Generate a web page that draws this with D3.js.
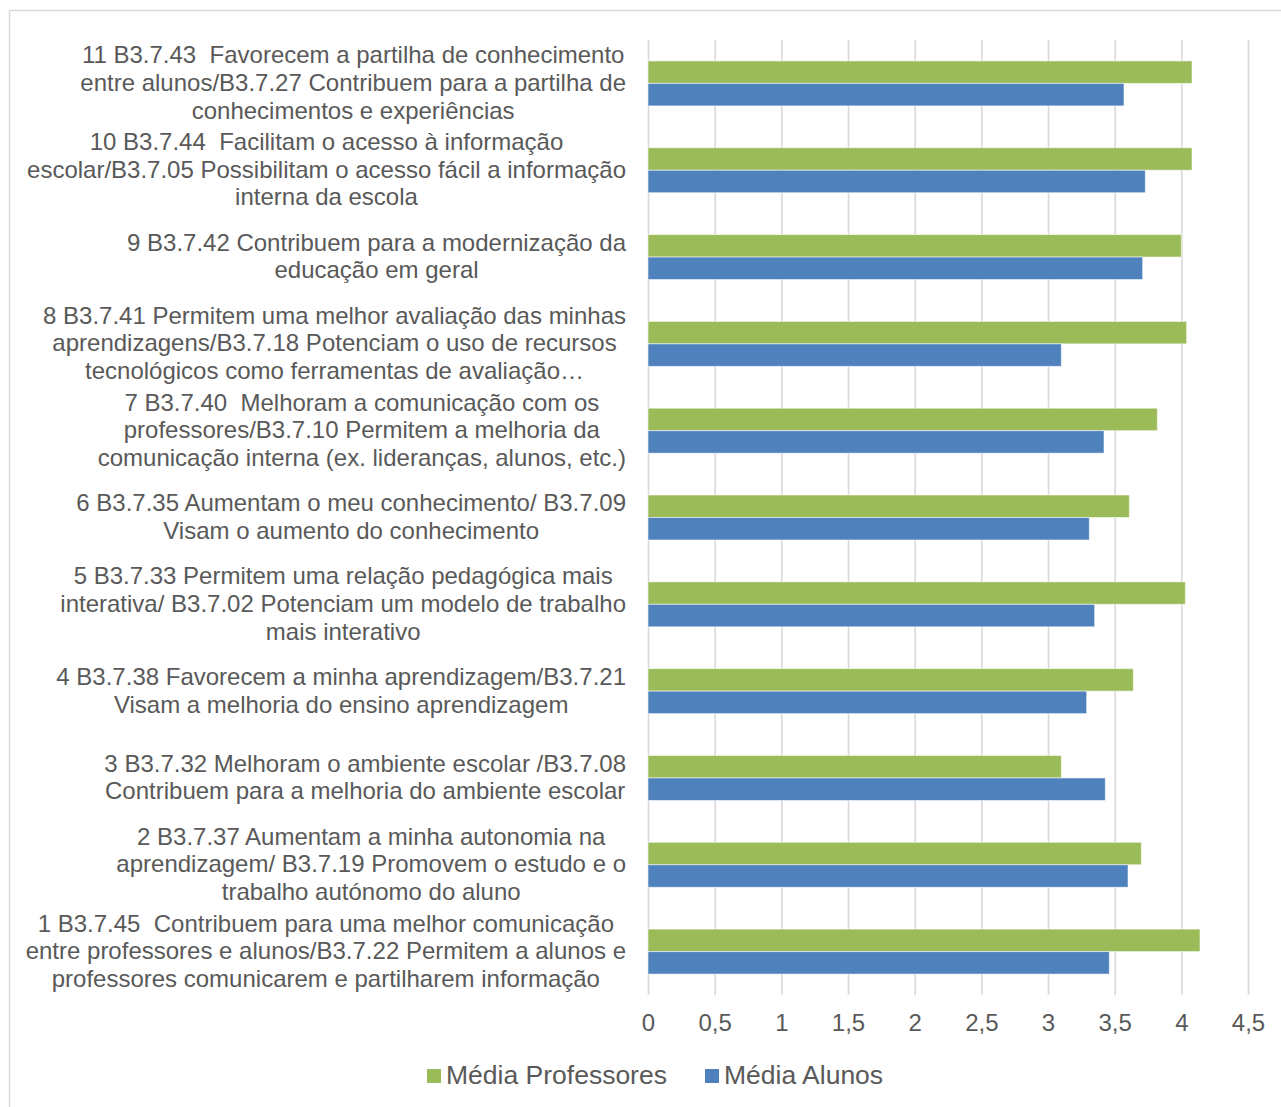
<!DOCTYPE html>
<html>
<head>
<meta charset="utf-8">
<script src="https://cdn.jsdelivr.net/npm/d3@7"></script>
<style>
  html, body { margin: 0; padding: 0; background: #fff; }
  svg { display: block; }
  text { font-family: "Liberation Sans", Arial, sans-serif; fill: #595959; white-space: pre; }
</style>
</head>
<body>
<svg id="chart" width="1281" height="1107"></svg>
<script>
// Item labels, listed from item 1 (bottom) to item 11 (top); "\n" marks a line break
const categories = [
  "1 B3.7.45  Contribuem para uma melhor comunicação\nentre professores e alunos/B3.7.22 Permitem a alunos e\nprofessores comunicarem e partilharem informação",
  "2 B3.7.37 Aumentam a minha autonomia na\naprendizagem/ B3.7.19 Promovem o estudo e o\ntrabalho autónomo do aluno",
  "3 B3.7.32 Melhoram o ambiente escolar /B3.7.08\nContribuem para a melhoria do ambiente escolar",
  "4 B3.7.38 Favorecem a minha aprendizagem/B3.7.21\nVisam a melhoria do ensino aprendizagem",
  "5 B3.7.33 Permitem uma relação pedagógica mais\ninterativa/ B3.7.02 Potenciam um modelo de trabalho\nmais interativo",
  "6 B3.7.35 Aumentam o meu conhecimento/ B3.7.09\nVisam o aumento do conhecimento",
  "7 B3.7.40  Melhoram a comunicação com os\nprofessores/B3.7.10 Permitem a melhoria da\ncomunicação interna (ex. lideranças, alunos, etc.)",
  "8 B3.7.41 Permitem uma melhor avaliação das minhas\naprendizagens/B3.7.18 Potenciam o uso de recursos\ntecnológicos como ferramentas de avaliação…",
  "9 B3.7.42 Contribuem para a modernização da\neducação em geral",
  "10 B3.7.44  Facilitam o acesso à informação\nescolar/B3.7.05 Possibilitam o acesso fácil a informação\ninterna da escola",
  "11 B3.7.43  Favorecem a partilha de conhecimento\nentre alunos/B3.7.27 Contribuem para a partilha de\nconhecimentos e experiências"
];

const seriesNames = ["Média Professores", "Média Alunos"];
const mediaProfessores = [4.14, 3.70, 3.10, 3.64, 4.03, 3.61, 3.82, 4.04, 4.00, 4.08, 4.08];
const mediaAlunos      = [3.46, 3.60, 3.43, 3.29, 3.35, 3.31, 3.42, 3.10, 3.71, 3.73, 3.57];
const tickValues = [0, 0.5, 1, 1.5, 2, 2.5, 3, 3.5, 4, 4.5];
const tickLabels = ["0", "0,5", "1", "1,5", "2", "2,5", "3", "3,5", "4", "4,5"];

const colors = ["#9BBB59", "#4F81BD"];

const rows = categories.map((c, i) => ({
  label: c,
  values: [mediaProfessores[i], mediaAlunos[i]]
}));

const svg = d3.select("#chart");

// outer chart frame
svg.append("rect")
  .attr("x", 9.5).attr("y", 10.5)
  .attr("width", 1300).attr("height", 1120)
  .attr("fill", "none").attr("stroke", "#d9d9d9").attr("stroke-width", 1.5);

const plot = { left: 648, right: 1248, top: 40, bottom: 995 };

const x = d3.scaleLinear().domain([0, 4.5]).range([plot.left, plot.right]);

// item 11 at the top, item 1 at the bottom
const y = d3.scaleBand()
  .domain(d3.range(categories.length).reverse())
  .range([plot.top, plot.bottom])
  .paddingInner(0.482)
  .paddingOuter(0.241);

const ySub = d3.scaleBand()
  .domain([0, 1])
  .range([0, y.bandwidth()]);

// vertical gridlines
const grid = svg.append("g")
  .attr("transform", `translate(0,${plot.bottom})`)
  .call(d3.axisBottom(x)
    .tickValues(tickValues)
    .tickSize(plot.bottom - plot.top)
    .tickFormat(""));
grid.select(".domain").remove();
grid.selectAll(".tick line")
  .attr("y2", -(plot.bottom - plot.top))
  .attr("stroke", "#d9d9d9")
  .attr("stroke-width", 1.6);

// tick labels
const axis = svg.append("g")
  .attr("transform", `translate(0,${plot.bottom})`)
  .call(d3.axisBottom(x)
    .tickValues(tickValues)
    .tickSize(0)
    .tickPadding(0)
    .tickFormat((d, i) => tickLabels[i]));
axis.select(".domain").remove();
axis.selectAll(".tick text")
  .attr("y", 36)
  .attr("dy", null)
  .style("font-size", "24px")
  .style("fill", "#595959");

// bars
const groups = svg.append("g").selectAll("g")
  .data(rows)
  .join("g")
  .attr("transform", (d, i) => `translate(0,${y(i)})`);

groups.selectAll("rect")
  .data(d => d.values.map((v, s) => ({ v, s })))
  .join("rect")
  .attr("x", x(0))
  .attr("y", d => ySub(d.s))
  .attr("width", d => x(d.v) - x(0))
  .attr("height", ySub.bandwidth())
  .attr("fill", d => colors[d.s])
  .attr("stroke", "#ffffff")
  .attr("stroke-opacity", 0.55)
  .attr("stroke-width", 1);

// category labels: centred lines, block right-aligned against the axis
const fontSize = 24;
const lineHeight = 27.6;
const labelRight = 626;
const labels = svg.append("g").selectAll("g")
  .data(rows)
  .join("g");

labels.each(function (d, i) {
  const g = d3.select(this);
  const lines = d.label.split("\n");
  const cy = y(i) + y.bandwidth() / 2 - 1;
  const texts = lines.map((ln, k) =>
    g.append("text")
      .attr("text-anchor", "middle")
      .attr("y", cy + (k - (lines.length - 1) / 2) * lineHeight + fontSize * 0.358)
      .style("font-size", fontSize + "px")
      .text(ln));
  const w = d3.max(texts, t => t.node().getComputedTextLength());
  texts.forEach(t => t.attr("x", labelRight - w / 2));
});

// legend
const legendItems = [
  { name: seriesNames[0], color: colors[0], x: 427 },
  { name: seriesNames[1], color: colors[1], x: 705 }
];
const legend = svg.append("g");
legendItems.forEach(it => {
  legend.append("rect")
    .attr("x", it.x).attr("y", 1069)
    .attr("width", 14).attr("height", 14)
    .attr("fill", it.color);
  legend.append("text")
    .attr("x", it.x + 19).attr("y", 1084)
    .style("font-size", "26.5px")
    .text(it.name);
});
</script>
</body>
</html>
